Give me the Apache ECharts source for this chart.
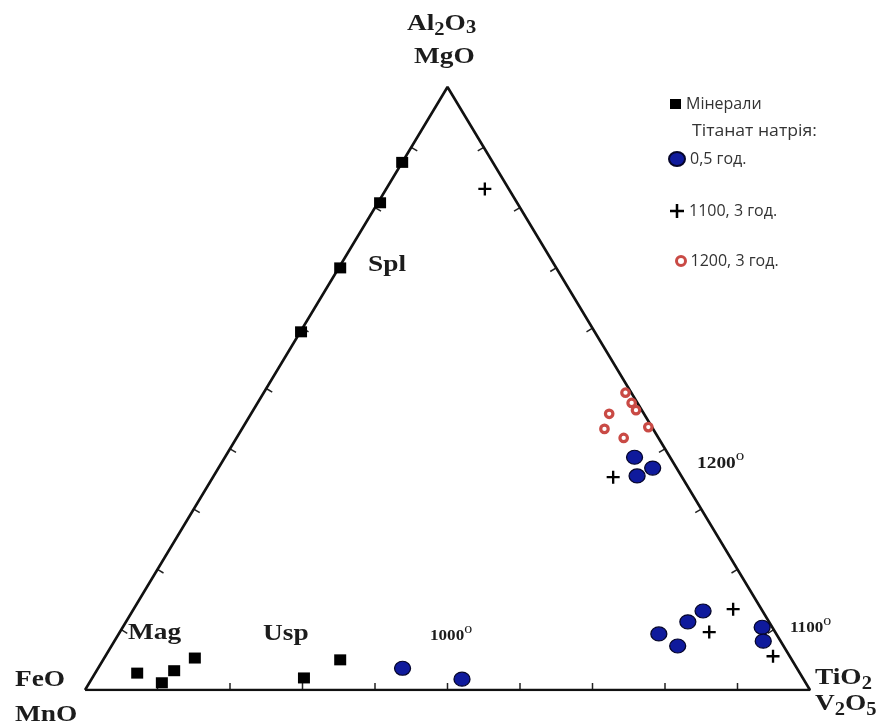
<!DOCTYPE html>
<html><head><meta charset="utf-8">
<script src="https://cdn.jsdelivr.net/npm/echarts@6/dist/echarts.min.js"></script>
<style>html,body{margin:0;padding:0;background:#fff}#c{width:896px;height:723px}</style>
</head><body><div id="c"></div>
<script>
// Ternary compositions, %: [Al2O3+MgO (top), FeO+MnO (left), TiO2+V2O5 (right)]
const minerals = [
  [87.5,12.5,0.0],[80.8,18.9,0.3],[70.0,29.8,0.2],[59.4,40.5,0.1],
  [2.8,91.4,5.8],[1.2,88.8,10.0],[3.2,86.1,10.7],[5.3,82.2,12.5],
  [2.0,68.8,29.2],[5.0,62.3,32.7]
];
const titanate05h = [
  [3.6,54.4,42.0],[1.8,47.1,51.1],
  [38.6,4.9,56.5],[35.5,6.1,58.4],[36.8,3.3,59.9],
  [9.3,16.2,74.5],[7.3,14.6,78.1],[11.3,11.2,77.5],[13.1,8.2,78.7],
  [10.4,1.4,88.2],[8.1,2.4,89.5]
];
const titanate1100_3h = [
  [83.1,3.3,13.6],[35.3,9.5,55.2],[13.4,3.9,82.7],[9.6,9.1,81.3],[5.6,2.3,92.1]
];
const titanate1200_3h = [
  [49.3,0.8,49.9],[47.6,0.8,51.6],[46.4,0.8,52.8],[45.8,4.8,49.4],
  [43.3,6.7,50.0],[41.8,4.8,53.4],[43.6,0.5,55.9]
];
const corners = { top:[100,0,0], left:[0,100,0], right:[0,0,100] };
const tickFractions = [10,20,30,40,50,60,70,80,90];
const seriesNames = ['Мінерали','0,5 год.','1100, 3 год.','1200, 3 год.'];

function toXY(p){ const s=p[0]+p[1]+p[2]; return [(p[2]+p[0]/2)/s, p[0]/s]; }

const edges = [[corners.left,corners.right],[corners.left,corners.top],[corners.top,corners.right]];
const tickData = [];
edges.forEach((e,i)=>tickFractions.forEach(f=>tickData.push([i,f])));

const plusPath = 'path://M4.1,0H5.9V4.1H10V5.9H5.9V10H4.1V5.9H0V4.1H4.1Z';
const ellipsePath = 'path://M0,7A8,7 0 1,1 16,7A8,7 0 1,1 0,7Z';
const blue = '#0f1a9c', red = '#c94a45';

const ctx = document.createElement('canvas').getContext('2d');
// parts: [text, fontSize, dy, weight]
function chem(parts, left, cy, sx){
  let x = 0; const children = [];
  parts.forEach(([t,size,dy,w])=>{
    const weight = w || 'bold';
    ctx.font = weight + ' ' + size + 'px "Liberation Serif"';
    children.push({type:'text', x:x, y:dy,
      style:{text:t, fontSize:size, fontFamily:'Liberation Serif', fontWeight:weight, fill:'#1c1c1c', align:'left', verticalAlign:'middle'}});
    x += ctx.measureText(t).width + (w ? 1 : 0);
  });
  return {type:'group', x:left, y:cy, scaleX: sx || 1.14, children};
}

const chart = echarts.init(document.getElementById('c'));
const legendText = {fontSize:16, fontFamily:'Open Sans', color:'#333'};
chart.setOption({
  animation:false,
  grid:{left:85, right:86, top:87, bottom:33},
  xAxis:{type:'value', min:0, max:1, show:false},
  yAxis:{type:'value', min:0, max:1, show:false},
  legend:[
    {data:[{name:seriesNames[0], icon:'rect'}], left:670, top:96, padding:0, itemWidth:11, itemHeight:10, itemGap:5, textStyle:legendText, selectedMode:false},
    {data:[{name:seriesNames[1], icon:ellipsePath}], left:668, top:151, padding:0, itemWidth:16, itemHeight:14, textStyle:legendText, selectedMode:false},
    {data:[{name:seriesNames[2], icon:plusPath}], left:670, top:203, padding:0, itemWidth:14, itemHeight:14, textStyle:legendText, selectedMode:false},
    {data:[{name:seriesNames[3], icon:'circle', itemStyle:{color:'#fff', borderColor:red, borderWidth:3, opacity:1}}], left:675, top:253, padding:0, itemWidth:9, itemHeight:9, textStyle:legendText, selectedMode:false}
  ],
  graphic:[
    {type:'text', x:692, y:131, scaleX:1.1, style:{text:'Тітанат натрія:', fontSize:16, fontFamily:'Open Sans', fill:'#333', align:'left', verticalAlign:'middle'}},
    chem([['Al',24,0],['2',18,6],['O',24,0],['3',18,4]], 407, 24),
    chem([['MgO',24,0]], 414, 57),
    chem([['FeO',24,0]], 15, 680),
    chem([['MnO',24,0]], 15, 715),
    chem([['TiO',24,0],['2',18,6]], 815, 678),
    chem([['V',24,0],['2',18,6],['O',24,0],['5',18,6]], 815, 704),
    chem([['Spl',24,0]], 368, 265),
    chem([['Mag',24,0]], 128, 633),
    chem([['Usp',24,0]], 263, 634),
    chem([['1000',15,0],['o',14,-7,'normal']], 430, 636),
    chem([['1200',17,0],['o',15,-8,'normal']], 697, 464),
    chem([['1100',15,0],['o',14,-7,'normal']], 790, 628)
  ],
  series:[
    {type:'line', silent:true, symbol:'none', data:[corners.left,corners.right,corners.top,corners.left].map(toXY),
     lineStyle:{color:'#111', width:2.6}, z:1},
    {type:'custom', silent:true, data:tickData, z:1,
     renderItem:function(params, api){
       const e = edges[api.value(0)], f = api.value(1)/100;
       const p = [0,1,2].map(k=>e[0][k]+(e[1][k]-e[0][k])*f);
       const pt = api.coord(toXY(p));
       const a = api.coord(toXY(e[0])), b = api.coord(toXY(e[1]));
       const c = api.coord(toXY([1,1,1]));
       let nx = -(b[1]-a[1]), ny = b[0]-a[0];
       const L = Math.hypot(nx,ny); nx/=L; ny/=L;
       if ((c[0]-pt[0])*nx + (c[1]-pt[1])*ny < 0){ nx=-nx; ny=-ny; }
       return {type:'line', shape:{x1:pt[0], y1:pt[1], x2:pt[0]+nx*7, y2:pt[1]+ny*7},
               style:{stroke:'#222', lineWidth:1.5}};
     }},
    {name:seriesNames[0], type:'scatter', data:minerals.map(toXY), symbol:'rect', symbolSize:[12,11],
     itemStyle:{color:'#000', opacity:1}, z:3},
    {name:seriesNames[1], type:'scatter', data:titanate05h.map(toXY), symbol:ellipsePath, symbolSize:[16,14],
     itemStyle:{color:blue, borderColor:'#05052a', borderWidth:1.2, opacity:1}, z:3},
    {name:seriesNames[2], type:'scatter', data:titanate1100_3h.map(toXY), symbol:plusPath, symbolSize:13,
     itemStyle:{color:'#000', opacity:1}, z:3},
    {name:seriesNames[3], type:'scatter', data:titanate1200_3h.map(toXY), symbol:'circle', symbolSize:7.5,
     itemStyle:{color:'#fff', borderColor:red, borderWidth:3.2, opacity:1}, z:3}
  ]
});
</script></body></html>
